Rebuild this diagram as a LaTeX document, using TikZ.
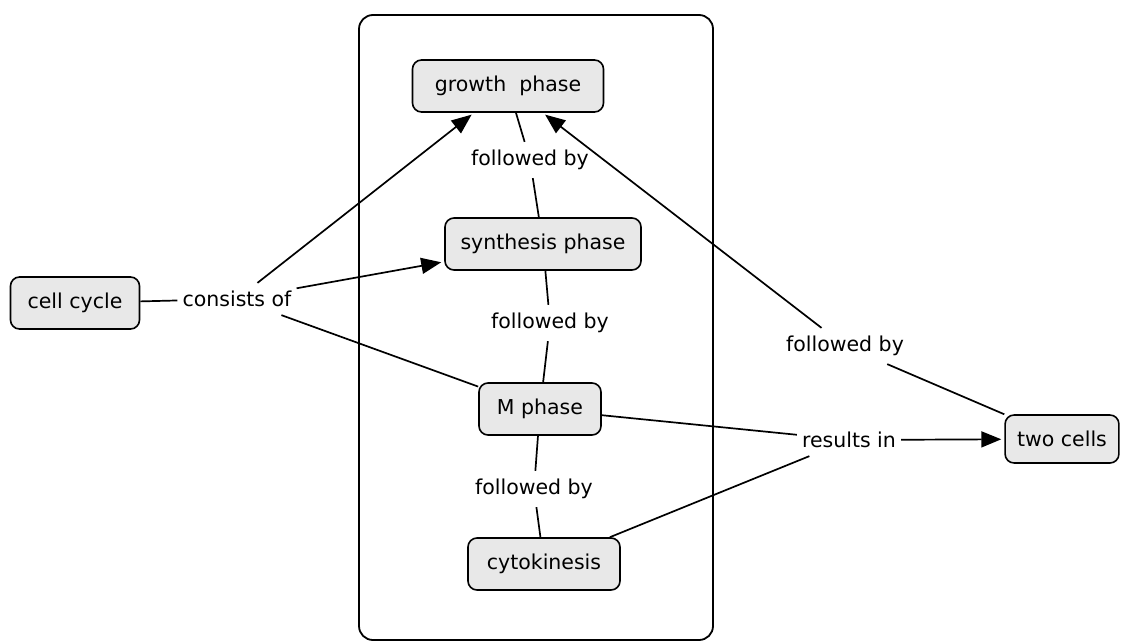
\documentclass[tikz,border=0pt]{standalone}
\usepackage{fontspec}
\setmainfont{DejaVu Sans}
\usetikzlibrary{arrows.meta}

\tikzset{
  concept/.style={draw, line width=1.6pt, rounded corners=9pt, fill=black!9,
    minimum height=52pt, inner xsep=12pt, font=\fontsize{20.5}{24}\selectfont},
  linker/.style={inner xsep=5pt, inner ysep=8pt, font=\fontsize{20.5}{24}\selectfont},
  link/.style={line width=1.7pt},
  linkto/.style={link, -{Triangle[length=20pt,width=16pt]}, shorten >=3pt},
}

\begin{document}
\begin{tikzpicture}[x=1pt,y=-1pt]
			%%%%% START %%%%%
			\useasboundingbox (0,0) rectangle (1122,642);
			
			\draw[line width=1.8pt, rounded corners=14pt] (359,15) rectangle (713,640);
			
			\node[concept, minimum width=191pt] (growth) at (508,86) {growth\ \ phase};
			\node[concept, minimum width=196pt] (synth) at (543,244) {synthesis phase};
			\node[concept, minimum width=122pt] (mphase) at (540,409) {M phase};
			\node[concept, minimum width=152pt] (cyto) at (544,564) {cytokinesis};
			\node[concept, minimum width=129pt] (cellcycle) at (75,303) {cell cycle};
			\node[concept, minimum width=113pt, minimum height=48pt] (twocells) at (1062,439) {two cells};
			
			\node[linker] (consists) at (237,299) {consists of};
			\node[linker] (fby1) at (530,160) {followed by};
			\node[linker] (fby2) at (550,323) {followed by};
			\node[linker] (fby3) at (534,489) {followed by};
			\node[linker] (fby4) at (845,346) {followed by};
			\node[linker] (results) at (849,440) {results in};
			
			\draw[link] (cellcycle) -- (consists);
			\draw[linkto] (consists) -- (growth);
			\draw[linkto] (consists) -- (synth);
			\draw[link] (consists) -- (mphase);
			
			\draw[link] (growth) -- (fby1) -- (synth);
			\draw[link] (synth) -- (fby2) -- (mphase);
			\draw[link] (mphase) -- (fby3) -- (cyto);
			
			\draw[link] (mphase) -- (results);
			\draw[link] (cyto) -- (results);
			\draw[linkto] (results) -- (twocells);
			
			\draw[link] (twocells) -- (fby4);
			\draw[linkto] (fby4) -- (growth);
			
			%%%%% END %%%%%
\end{tikzpicture}
\end{document}
